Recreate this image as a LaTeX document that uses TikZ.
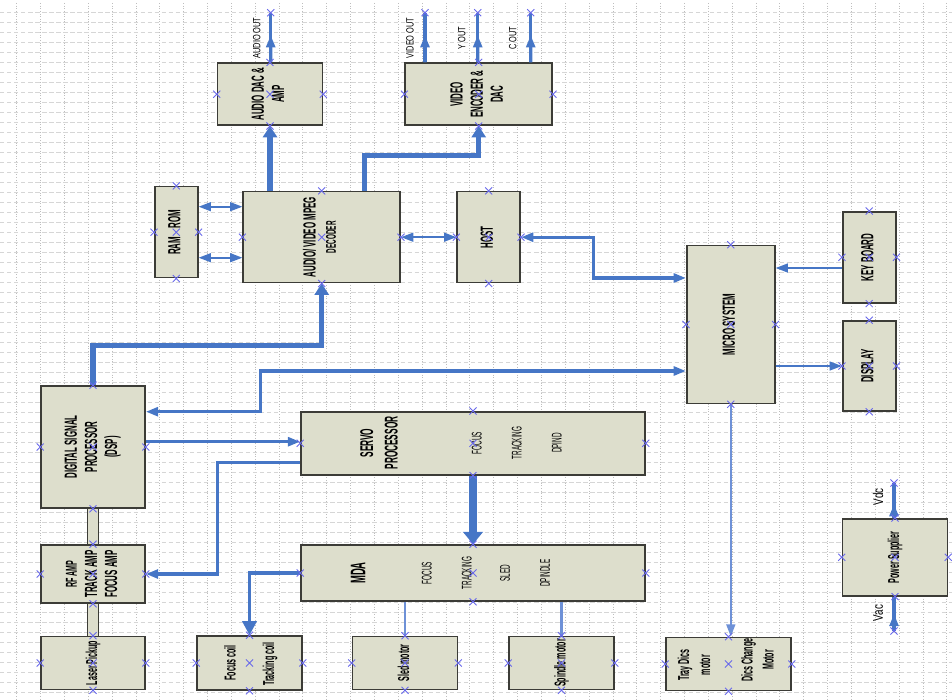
\documentclass[tikz,border=0pt]{standalone}
\usepackage{fontspec}
\newfontfamily\narrow{Liberation Sans}[FakeStretch=0.45]
\newfontfamily\semi{Liberation Sans}[FakeStretch=0.7]
\usetikzlibrary{arrows.meta, calc, shapes.misc}
\definecolor{boxfill}{RGB}{221,222,204}
\definecolor{boxline}{RGB}{60,60,55}
\definecolor{wire}{RGB}{70,118,198}
\definecolor{wirelt}{RGB}{110,145,215}
\definecolor{cptblue}{RGB}{105,105,235}
\definecolor{gridv}{RGB}{190,190,190}
\definecolor{gridh}{RGB}{214,214,214}
\newcommand{\vtxt}[1]{\rotatebox{90}{\begin{tabular}{@{}c@{}}#1\end{tabular}}}
\tikzset{
    blk/.style = {draw=boxline, fill=boxfill, line width=0.9pt, inner sep=0pt,
                  font=\narrow\bfseries\fontsize{10}{11.5}\selectfont},
    sz/.style 2 args = {minimum width=#1*0.02cm, minimum height=#2*0.02cm},
    lbl/.style = {rotate=90, align=center, inner sep=0pt},
    sub/.style = {lbl, font=\narrow\fontsize{8}{10}\selectfont},
    cpt/.style = {cross out, draw=cptblue, line width=0.5pt, minimum size=3.5pt, inner sep=0pt},
    bus/.style = {draw=boxline, line width=0.7pt, double=boxfill, double distance=5.5pt},
    wbig/.style = {draw=wire, line width=4pt, -{Triangle[length=7pt, width=11pt]}},
    wfat/.style = {draw=wire, line width=3pt, -{Triangle[length=6.5pt, width=8pt]}},
    wmed/.style = {draw=wire, line width=1.8pt},
    wthin/.style = {draw=wire, line width=1.1pt},
    wpale/.style = {draw=wirelt, line width=1.2pt},
    onetip/.style = {-{Triangle[length=7pt, width=5pt]}},
    twotip/.style = {{Triangle[length=7pt, width=5pt]}-{Triangle[length=7pt, width=5pt]}},
}

\begin{document}
\begin{tikzpicture}[x = 0.02cm, y = -0.02cm,
    every node/.style = {font=\semi\fontsize{6}{8}\selectfont}]
    % Frame
    \useasboundingbox (0,0) rectangle (952,699);
    % Grid
    \foreach \i in {0,...,39}
    {
        \draw[gridv, densely dotted, line width=0.5pt] ({16.7+23.85*\i},3) -- ({16.7+23.85*\i},699);
    }
    \foreach \j in {0,...,68}
    {
        \draw[gridh, dash pattern=on 2.5pt off 1.5pt, line width=0.4pt] (0,{12.7+10*\j}) -- (952,{12.7+10*\j});
    }

    % Blocks
    \node[blk, sz={104}{53}] (lp) at (93,663) {\vtxt{\fontsize{9}{11}\selectfont Laser Pickup}};
    \node[blk, sz={104}{58}] (rf) at (93,574) {\vtxt{\fontsize{9}{12}\selectfont RF AMP\\TRACK AMP\\FOCUS AMP}};
    \node[blk, sz={104}{122}] (dsp) at (93,447) {\vtxt{DIGITAL SIGNAL\\PROCESSOR\\(DSP)}};
    \node[blk, sz={105}{54}] (coil) at (249.5,663) {};
    \node[blk, sz={105}{53}] (sled) at (405,663) {\vtxt{\fontsize{9}{11}\selectfont Sled motor}};
    \node[blk, sz={105}{53}] (spin) at (561.5,663) {\vtxt{\fontsize{9}{11}\selectfont Spindle motor}};
    \node[blk, sz={344}{56}] (mda) at (473,573) {};
    \node[blk, sz={344}{63}] (servo) at (473,443.3) {};
    \node[blk, sz={125}{53}] (tray) at (728.5,664) {};
    \node[blk, sz={105}{77}] (power) at (895,557.3) {\vtxt{\fontsize{9}{11}\selectfont Power Supplier}};
    \node[blk, sz={53}{90}] (disp) at (869.2,366) {\vtxt{DISPLAY}};
    \node[blk, sz={53}{91}] (kbd) at (869.2,257.3) {\vtxt{KEY BOARD}};
    \node[blk, sz={88}{158}] (micro) at (730.8,324.5) {\vtxt{MICRO SYSTEM}};
    \node[blk, sz={157}{91}] (dec) at (321.7,237.2) {\vtxt{AUDIO/ VIDEO MPEG\\{\fontsize{8}{9}\selectfont DECODER}}};
    \node[blk, sz={43}{91}] (ram) at (176.3,232.2) {\vtxt{RAM\enspace ROM}};
    \node[blk, sz={63}{91}] (host) at (488.7,237.2) {\vtxt{HOST}};
    \node[blk, sz={105}{62}] (adac) at (270,94.2) {\vtxt{AUDIO DAC \&\\AMP}};
    \node[blk, sz={147}{62}] (venc) at (478.7,94.2) {\vtxt{VIDEO\\ENCODER \&\\DAC}};

    % Texts inside the wide blocks
    \node[lbl, font=\narrow\bfseries\fontsize{9}{11}\selectfont] (coil-f) at (230,663) {Focus coil};
    \node[lbl, font=\narrow\bfseries\fontsize{9}{11}\selectfont] (coil-t) at (270,664) {Tracking coil};
    \node[lbl, font=\narrow\bfseries\fontsize{9}{12}\selectfont] (tray-a) at (694,665) {Tray Dics\\motor};
    \node[lbl, font=\narrow\bfseries\fontsize{9}{12}\selectfont] (tray-b) at (757.5,660) {Dics Change\\Motor};
    \node[lbl, font=\narrow\bfseries\fontsize{10.5}{14}\selectfont] (servo-t) at (379,443) {SERVO\\PROCESSOR};
    \node[sub] (servo-f) at (476.7,443) {FOCUS};
    \node[sub] (servo-k) at (516.7,443) {TRACKING};
    \node[sub] (servo-d) at (556.7,443) {DPIND};
    \node[lbl, font=\narrow\bfseries\fontsize{12}{14}\selectfont] (mda-t) at (358,573) {MDA};
    \node[sub] (mda-f) at (426.7,573) {FOCUS};
    \node[sub] (mda-k) at (466.7,573) {TRACKING};
    \node[sub] (mda-s) at (505,573) {SLED};
    \node[sub] (mda-d) at (545,573) {DPINDLE};

    % Outputs and supply
    \coordinate (ao) at (270.7,12.7);
    \coordinate (vo) at (425,12.7);
    \coordinate (yo) at (477.7,12.7);
    \coordinate (co) at (530.7,12.7);
    \coordinate (vdc) at (894,483);
    \coordinate (vac) at (894,631);
    \node[lbl] (ao-l) at (256.7,38) {AUDIO OUT};
    \node[lbl] (vo-l) at (410,38) {VIDEO OUT};
    \node[lbl] (yo-l) at (461.7,38) {Y OUT};
    \node[lbl] (co-l) at (512.7,38) {C OUT};
    \node[lbl, font=\semi\fontsize{8}{10}\selectfont] (vdc-l) at (878,497) {Vdc};
    \node[lbl, font=\semi\fontsize{8}{10}\selectfont] (vac-l) at (878,613) {Vac};
    \foreach \b/\o in {adac/ao, venc/vo, venc/yo, venc/co}
    {
        \draw[wmed] (\b.north -| \o) -- (\o);
        \draw[wmed, onetip] (\b.north -| \o) -- ($(\b.north -| \o)!0.55!(\o)$);
    }
    \draw[wmed] (power.north -| vdc) -- (vdc);
    \draw[wmed, onetip] (power.north -| vdc) -- ($(power.north -| vdc)!0.4!(vdc)$);
    \draw[wmed] (vac) -- (power.south -| vac);
    \draw[wmed, onetip] (vac) -- ($(vac)!0.5!(power.south -| vac)$);

    % Pickup path
    \draw[bus] (lp.north) -- (rf.south);
    \draw[bus] (rf.north) -- (dsp.south);

    % Data paths
    \draw[wfat] (dsp.north) -- ++(0,-40) -| (dec.south);
    \draw[wfat] (adac.south |- dec.north) -- (adac.south);
    \draw[wfat] ($(dec.north)+(42.6,0)$) -- ++(0,-35.7) -| (venc.south);
    \coordinate (r1) at ($(ram.east)+(0,-25.5)$);
    \coordinate (r2) at ($(ram.east)+(0,25.5)$);
    \draw[wthin, twotip] (r1) -- (r1 -| dec.west);
    \draw[wthin, twotip] (r2) -- (r2 -| dec.west);
    \draw[wthin, twotip] (dec.east) -- (host.west);

    % Control paths
    \coordinate (m1) at ($(micro.west)+(0,-46.5)$);
    \coordinate (m2) at ($(micro.west)+(0,46.5)$);
    \coordinate (d1) at ($(dsp.east)+(0,-35.3)$);
    \coordinate (d2) at ($(dsp.east)+(0,-5.3)$);
    \coordinate (s1) at ($(servo.west)+(0,19.4)$);
    \coordinate (k1) at ($(kbd.west)+(0,10.7)$);
    \draw[wmed, twotip] (host.east) -- ++(72.7,0) |- (m1);
    \draw[wmed, twotip] (d1) -- ++(115,0) |- (m2);
    \draw[wmed, onetip] (d2) -- (d2 -| servo.west);
    \draw[wmed, onetip] (s1) -- ++(-83,0) |- (rf.east);
    \draw[wbig] (servo.south) -- (mda.north);
    \draw[wmed, -{Triangle[length=8pt, width=8pt]}] (mda.west) -| (coil.north);
    \draw[wpale] (sled.north |- mda.south) -- (sled.north);
    \draw[wpale] (spin.north |- mda.south) -- (spin.north);
    \draw[wpale, onetip] (micro.south) -- (micro.south |- tray.north);
    \draw[wthin, onetip] (k1) -- (k1 -| micro.east);
    \draw[wthin, onetip] (micro.east |- disp.west) -- (disp.west);

    % Connection points
    \foreach \n in {lp,rf,dsp,coil,sled,spin,mda,servo,tray,power,disp,kbd,micro,dec,ram,host,adac,venc}
    {
        \foreach \a in {north,south,east,west,center}
        {
            \node[cpt] (\n-\a-x) at (\n.\a) {};
        }
    }
    \foreach \o in {ao,vo,yo,co,vdc,vac}
    {
        \node[cpt] (\o-x) at (\o) {};
    }
\end{tikzpicture}
\end{document}
